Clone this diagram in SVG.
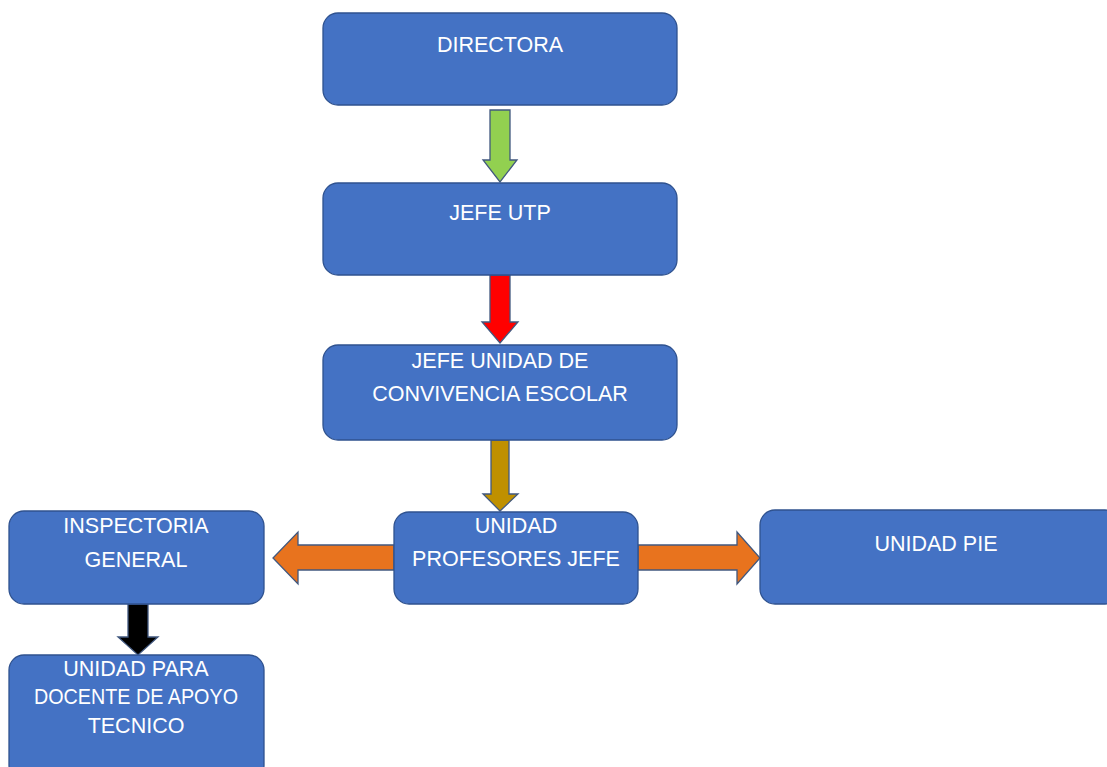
<svg xmlns="http://www.w3.org/2000/svg" width="1107" height="767" viewBox="0 0 1107 767">
<style>
.box{fill:#4472C4;stroke:#2F528F;stroke-width:1.3}
.t{font-family:"Liberation Sans",Arial,sans-serif;font-size:21.5px;fill:#fff;text-anchor:middle}
.arr{stroke:#41587f;stroke-width:1.3}
</style>
<rect width="1107" height="767" fill="#fff"/>
<g id="connectors">
<polygon class="arr" fill="#92D050" points="490,110 510,110 510,160 517,160 500,182 483,160 490,160"/>
<polygon class="arr" fill="#FF0000" points="490,275 510,275 510,322 518,322 500,343 482,322 490,322"/>
<polygon class="arr" fill="#BF9000" points="491,440 509,440 509,494 518,494 500,511 483,494 491,494"/>
<polygon class="arr" fill="#E8731E" points="394,545 298,545 298,532 273,558 298,584 298,570 394,570"/>
<polygon class="arr" fill="#E8731E" points="638,545 737,545 737,532 760,558 737,584 737,570 638,570"/>
<polygon class="arr" fill="#000" points="128,604 148,604 148,637 158,637 138,655 118,637 128,637"/>
</g>
<g id="directora"><rect class="box" x="323" y="13" width="354" height="92" rx="15"/><text class="t" x="500" y="52">DIRECTORA</text></g>
<g id="jefe-utp"><rect class="box" x="323" y="183" width="354" height="92" rx="15"/><text class="t" x="500" y="220">JEFE UTP</text></g>
<g id="convivencia"><rect class="box" x="323" y="345" width="354" height="95" rx="15"/><text class="t" x="500" y="368">JEFE UNIDAD DE</text><text class="t" x="500" y="401">CONVIVENCIA ESCOLAR</text></g>
<g id="profesores"><rect class="box" x="394" y="512" width="244" height="92" rx="15"/><text class="t" x="516" y="533">UNIDAD</text><text class="t" x="516" y="566">PROFESORES JEFE</text></g>
<g id="pie"><rect class="box" x="760" y="510" width="360" height="94" rx="15"/><text class="t" x="936" y="551">UNIDAD PIE</text></g>
<g id="inspectoria"><rect class="box" x="9" y="511" width="255" height="93" rx="15"/><text class="t" x="136" y="533">INSPECTORIA</text><text class="t" x="136" y="567">GENERAL</text></g>
<g id="docente"><rect class="box" x="9" y="655" width="255" height="125" rx="15"/><text class="t" x="136" y="676">UNIDAD PARA</text><text class="t" x="136" y="704" textLength="204" lengthAdjust="spacingAndGlyphs">DOCENTE DE APOYO</text><text class="t" x="136" y="733">TECNICO</text></g>
</svg>
